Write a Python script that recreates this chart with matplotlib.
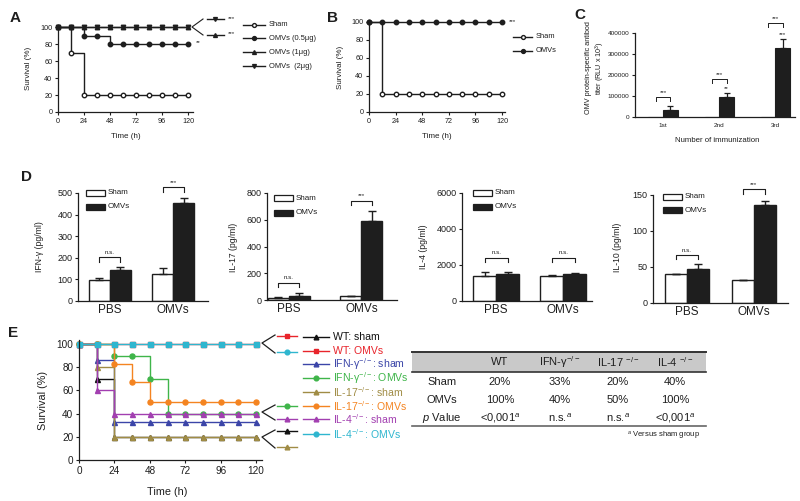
import numpy as np
import matplotlib
matplotlib.use('Agg')
import matplotlib.pyplot as plt
from matplotlib.lines import Line2D
from matplotlib.patches import Rectangle

plt.rcParams['font.family'] = ['Liberation Sans', 'DejaVu Sans']
plt.rcParams['mathtext.fontset'] = 'custom'
plt.rcParams['mathtext.rm'] = 'Liberation Sans'
plt.rcParams['mathtext.it'] = 'Liberation Sans:italic'
plt.rcParams['mathtext.bf'] = 'Liberation Sans:bold'

# ---------------- data ----------------
hours = [0, 12, 24, 36, 48, 60, 72, 84, 96, 108, 120]

# A: survival vs OMV dose
a_names = ['Sham', 'OMVs (0.5μg)', 'OMVs (1μg)', 'OMVs  (2μg)']
a_sham = [100, 70, 20, 20, 20, 20, 20, 20, 20, 20, 20]
a_omv05 = [100, 100, 90, 90, 80, 80, 80, 80, 80, 80, 80]
a_omv1 = [100, 100, 100, 100, 100, 100, 100, 100, 100, 100, 100]
a_omv2 = [100, 100, 100, 100, 100, 100, 100, 100, 100, 100, 100]

# B: sham vs OMVs
b_names = ['Sham', 'OMVs']
b_sham = [100, 20, 20, 20, 20, 20, 20, 20, 20, 20, 20]
b_omvs = [100, 100, 100, 100, 100, 100, 100, 100, 100, 100, 100]

# C: antibody titer
c_rounds = ['1st', '2nd', '3rd']
c_sham = [0, 0, 0]
c_omvs = [33000, 97000, 330000]
c_err = [20000, 17000, 40000]
c_bar_stars = ['', '**', '***']
c_bracket = [95000, 181000, 448000]

# D: cytokines
d_groups = ['PBS', 'OMVs']
d_ylabels = ['IFN-γ (pg/ml)', 'IL-17 (pg/ml)', 'IL-4 (pg/ml)', 'IL-10 (pg/ml)']
d_ymax = [500, 800, 6000, 150]
d_yticks = [[0, 100, 200, 300, 400, 500], [0, 200, 400, 600, 800],
            [0, 2000, 4000, 6000], [0, 50, 100, 150]]
ifng_sham, ifng_sham_err = [96, 123], [11, 28]
ifng_omv, ifng_omv_err = [143, 453], [15, 24]
il17_sham, il17_sham_err = [17, 30], [8, 0]
il17_omv, il17_omv_err = [32, 592], [23, 70]
il4_sham, il4_sham_err = [1410, 1410], [190, 60]
il4_omv, il4_omv_err = [1485, 1485], [115, 55]
il10_sham, il10_sham_err = [40, 31.5], [0, 0]
il10_omv, il10_omv_err = [47, 136], [7, 6]
d_sig = [['n.s.', '***'], ['n.s.', '***'], ['n.s.', 'n.s.'], ['n.s.', '***']]
d_bracket = [[202, 526], [130, 742], [2415, 2415], [67, 158]]

# E: knockout survival
e_names = ['WT: sham', 'WT: OMVs', 'IFN-γ$^{-/-}$: sham', 'IFN-γ$^{-/-}$: OMVs',
           'IL-17$^{-/-}$: sham', 'IL-17$^{-/-}$: OMVs', 'IL-4$^{-/-}$: sham', 'IL-4$^{-/-}$: OMVs']
e_colors = ['#111111', '#e8242b', '#3b45a8', '#3fb54a', '#a08c45', '#f48421', '#a23fb0', '#2fb6cf']
e_markers = ['^', 's', '^', 'o', '^', 'o', '^', 'o']
e_surv = [
    [100, 70, 20, 20, 20, 20, 20, 20, 20, 20, 20],
    [100, 100, 100, 100, 100, 100, 100, 100, 100, 100, 100],
    [100, 86, 33, 33, 33, 33, 33, 33, 33, 33, 33],
    [100, 100, 90, 90, 70, 40, 40, 40, 40, 40, 40],
    [100, 80, 20, 20, 20, 20, 20, 20, 20, 20, 20],
    [100, 100, 83, 67, 50, 50, 50, 50, 50, 50, 50],
    [100, 60, 40, 40, 40, 40, 40, 40, 40, 40, 40],
    [100, 100, 100, 100, 100, 100, 100, 100, 100, 100, 100],
]

# table
t_cols = ['WT', 'IFN-γ$^{-/-}$', 'IL-17 $^{-/-}$', 'IL-4 $^{-/-}$']
t_rows = ['Sham', 'OMVs', '$\\it{p}$ Value']
t_cells = [['20%', '33%', '20%', '40%'],
           ['100%', '40%', '50%', '100%'],
           ['<0,001$^{a}$', 'n.s.$^{a}$', 'n.s.$^{a}$', '<0,001$^{a}$']]

# ---------------- figure ----------------
W, H = 800, 501
ink = '#1e1e1e'
fig = plt.figure(figsize=(8, 5.01), dpi=100)


def fx(x):
    return x / W


def fy(y):
    return 1 - y / H


def axes_px(x0, y0, x1, y1):
    return fig.add_axes([fx(x0), fy(y1), (x1 - x0) / W, (y1 - y0) / H])


def prism(ax, size):
    for s in ['top', 'right']:
        ax.spines[s].set_visible(False)
    for s in ['left', 'bottom']:
        ax.spines[s].set_linewidth(0.9)
        ax.spines[s].set_color(ink)
    ax.tick_params(direction='out', length=2.5, width=0.8, labelsize=size,
                   colors=ink, pad=1.5)


def ftext(x, y, s, fs, **kw):
    kw.setdefault('color', ink)
    fig.text(fx(x), fy(y), s, fontsize=fs, **kw)


def fline(xs, ys, **kw):
    fig.add_artist(Line2D([fx(v) for v in xs], [fy(v) for v in ys], **kw))


def key(x0, x1, y, marker, color, face, ms=3):
    fline([x0, x1], [y, y], color=color, lw=1)
    fline([(x0 + x1) / 2], [y], ls='none', marker=marker, color=color,
          mfc=face, ms=ms)


def survival(ax, y, marker, color, face, ms=3.2):
    ax.plot(hours, y, drawstyle='steps-post', color=color, lw=1, clip_on=False)
    ax.plot(hours, y, ls='none', marker=marker, color=color, mfc=face,
            mec=color, ms=ms, clip_on=False)


# panel letters
for lab, x, y in [('A', 15, 18), ('B', 332, 18), ('C', 580, 15), ('D', 27, 177), ('E', 13, 333)]:
    ftext(x, y, lab, 11, weight='bold', ha='center', va='center')

# ---- A ----
axA = axes_px(58, 26, 193, 112)
survival(axA, a_sham, 'o', ink, 'white')
survival(axA, a_omv05, 'o', ink, ink)
survival(axA, a_omv1, '^', ink, ink)
survival(axA, a_omv2, 'v', ink, ink)
axA.set_xlim(0, 124.6)
axA.set_ylim(0, 101.2)
axA.set_xticks(range(0, 121, 24))
axA.set_yticks(range(0, 101, 20))
prism(axA, 5.2)
ftext(126, 137, 'Time (h)', 5.8, ha='center', va='center')
ftext(28, 68, 'Survival (%)', 5.8, ha='center', va='center', rotation=90)
fline([203, 192, 203], [19, 27, 35], color=ink, lw=0.8)
key(207, 224, 19, 'v', ink, ink, 2.8)
key(207, 224, 35, '^', ink, ink, 2.8)
ftext(228, 19, '***', 4.5, va='center')
ftext(228, 34, '***', 4.5, va='center')
ftext(196, 43, '**', 4.5, va='center')
for name, y, mk, face in zip(a_names, [25, 38, 52, 66], ['o', 'o', '^', 'v'],
                             ['white', ink, ink, ink]):
    key(243, 265, y, mk, ink, face, 2.8)
    ftext(269, y, name, 5.4, va='center')

# ---- B ----
axB = axes_px(369, 20, 505, 112)
survival(axB, b_sham, 'o', ink, 'white')
survival(axB, b_omvs, 'o', ink, ink)
axB.set_xlim(0, 122.7)
axB.set_ylim(0, 102.2)
axB.set_xticks(range(0, 121, 24))
axB.set_yticks(range(0, 101, 20))
prism(axB, 5.2)
ftext(437, 137, 'Time (h)', 5.8, ha='center', va='center')
ftext(340, 67, 'Survival (%)', 5.8, ha='center', va='center', rotation=90)
ftext(509, 22, '***', 4.5, va='center')
for name, y, face in zip(b_names, [37, 51], ['white', ink]):
    key(513, 532, y, 'o', ink, face, 2.8)
    ftext(536, y, name, 5.4, va='center')

# ---- C ----
axC = axes_px(635, 33, 795, 117)
xc = np.arange(len(c_rounds))
wc = 0.26
axC.bar(xc - wc / 2, c_sham, wc, color='white', edgecolor=ink, lw=0.8)
axC.bar(xc + wc / 2, c_omvs, wc, color=ink, edgecolor=ink, lw=0.8)
axC.errorbar(xc + wc / 2, c_omvs, yerr=[np.zeros(3), c_err], fmt='none',
             ecolor=ink, elinewidth=0.9, capsize=2.5, capthick=0.9)
legC = 400000 * 4 / 84
for i in range(len(c_rounds)):
    yb = c_bracket[i]
    axC.plot([xc[i] - wc / 2, xc[i] - wc / 2, xc[i] + wc / 2, xc[i] + wc / 2],
             [yb - legC, yb, yb, yb - legC], color=ink, lw=0.7, clip_on=False)
    axC.text(xc[i], yb + legC * 0.5, '***', ha='center', va='bottom',
             fontsize=4.5, color=ink)
    if c_bar_stars[i]:
        axC.text(xc[i] + wc / 2, c_omvs[i] + c_err[i] + legC * 0.6, c_bar_stars[i],
                 ha='center', va='bottom', fontsize=4.5, color=ink)
axC.set_xlim(-0.5, 2.35)
axC.set_ylim(0, 400000)
axC.set_xticks(xc)
axC.set_xticklabels(c_rounds)
axC.set_yticks([0, 100000, 200000, 300000, 400000])
axC.set_yticklabels(['0', '100000', '200000', '300000', '400000'])
prism(axC, 4.6)
axC.tick_params(axis='x', length=0, pad=4)
ftext(717, 141, 'Number of immunization', 5.6, ha='center', va='center')
ftext(596, 68, 'OMV protein-specific antibod\ntiter (RLU x 10$^{3}$)', 5.2,
      ha='center', va='center', rotation=90, linespacing=1.3)

# ---- D ----
d_sham = [ifng_sham, il17_sham, il4_sham, il10_sham]
d_sham_err = [ifng_sham_err, il17_sham_err, il4_sham_err, il10_sham_err]
d_omv = [ifng_omv, il17_omv, il4_omv, il10_omv]
d_omv_err = [ifng_omv_err, il17_omv_err, il4_omv_err, il10_omv_err]
d_boxes = [(78, 193, 208, 301), (267, 193, 397, 300), (462, 193, 592, 301), (653, 195, 788, 303)]
d_xlims = [(-0.5, 1.55), (-0.30, 1.49), (-0.51, 1.43), (-0.51, 1.51)]
d_width = [0.33, 0.29, 0.34, 0.33]
d_ylab_x = [39, 233, 423, 618]
d_leg = [(86, 193, 207), (274, 198, 213), (473, 193, 207), (663, 197, 210)]
for k in range(4):
    x0, y0, x1, y1 = d_boxes[k]
    ax = axes_px(x0, y0, x1, y1)
    xd = np.arange(len(d_groups))
    w = d_width[k]
    ax.bar(xd - w / 2, d_sham[k], w, color='white', edgecolor=ink, lw=1)
    ax.bar(xd + w / 2, d_omv[k], w, color=ink, edgecolor=ink, lw=1)
    ax.errorbar(xd - w / 2, d_sham[k], yerr=[np.zeros(2), d_sham_err[k]], fmt='none',
                ecolor=ink, elinewidth=1, capsize=3, capthick=1)
    ax.errorbar(xd + w / 2, d_omv[k], yerr=[np.zeros(2), d_omv_err[k]], fmt='none',
                ecolor=ink, elinewidth=1, capsize=3, capthick=1)
    leg = d_ymax[k] * 4.5 / (y1 - y0)
    for g in range(2):
        yb = d_bracket[k][g]
        ax.plot([xd[g] - w / 2, xd[g] - w / 2, xd[g] + w / 2, xd[g] + w / 2],
                [yb - leg, yb, yb, yb - leg], color=ink, lw=0.8, clip_on=False)
        ax.text(xd[g], yb + leg * 0.5, d_sig[k][g], ha='center', va='bottom',
                fontsize=4.5, color=ink)
    ax.set_xlim(*d_xlims[k])
    ax.set_ylim(0, d_ymax[k])
    ax.set_yticks(d_yticks[k])
    ax.set_xticks(xd)
    ax.set_xticklabels(d_groups)
    prism(ax, 6.5)
    ax.tick_params(axis='x', length=0, labelsize=8.5, pad=2)
    ftext(d_ylab_x[k], 247, d_ylabels[k], 6.2, ha='center', va='center', rotation=90)
    lx, ly1, ly2 = d_leg[k]
    for ly, face in [(ly1, 'white'), (ly2, ink)]:
        fig.add_artist(Rectangle((fx(lx), fy(ly + 3)), 19 / W, 6 / H, facecolor=face,
                                 edgecolor=ink, lw=0.9, transform=fig.transFigure))
    ftext(lx + 22, ly1, 'Sham', 5.8, va='center')
    ftext(lx + 22, ly2, 'OMVs', 5.8, va='center')

# ---- E ----
axE = axes_px(79, 340, 262, 460)
for i in range(len(e_names)):
    mk = 's' if i == 7 else e_markers[i]
    survival(axE, e_surv[i], mk, e_colors[i], e_colors[i], ms=3.6)
axE.set_xlim(0, 124)
axE.set_ylim(0, 103.4)
axE.set_xticks(range(0, 121, 24))
axE.set_yticks(range(0, 101, 20))
prism(axE, 7.2)
ftext(167, 492, 'Time (h)', 7.8, ha='center', va='center')
ftext(43, 400, 'Survival (%)', 7.8, ha='center', va='center', rotation=90)
e_rows = [337, 351, 364, 378, 392, 406, 419, 434]
for i in range(len(e_names)):
    key(303, 329, e_rows[i], e_markers[i], e_colors[i], e_colors[i], 3.4)
    ftext(333, e_rows[i], e_names[i], 7.6, va='center', color=e_colors[i])
for yv, ya, yb, ia, ib in [(343, 336, 352, 1, 7), (412, 406, 419, 3, 6), (437, 431, 447, 0, 4)]:
    fline([275, 262, 275], [ya - 1, yv, yb + 1], color=ink, lw=0.9)
    key(277, 297, ya, e_markers[ia], e_colors[ia], e_colors[ia], 3.4)
    key(277, 297, yb, e_markers[ib], e_colors[ib], e_colors[ib], 3.4)

# ---- table ----
fig.add_artist(Rectangle((fx(412), fy(372)), 294 / W, 20 / H, facecolor='#c9c9c9',
                         edgecolor='none', transform=fig.transFigure))
fline([412, 706], [352, 352], color='#333333', lw=1.4)
fline([412, 706], [372, 372], color='#333333', lw=1.2)
fline([412, 706], [426, 426], color='#666666', lw=1.2)
col_x = [500, 560, 618, 675]
for c, xv in zip(t_cols, col_x):
    ftext(xv, 362, c, 8, ha='center', va='center')
row_y = [382, 400, 418]
for r, yv, cells in zip(t_rows, row_y, t_cells):
    ftext(442, yv, r, 8, ha='center', va='center')
    for s, xv in zip(cells, col_x):
        ftext(xv, yv, s, 8, ha='center', va='center')
ftext(700, 436, '$^{a}$ Versus sham group', 5.5, ha='right', va='center')

fig.savefig('out.png', dpi=100)
